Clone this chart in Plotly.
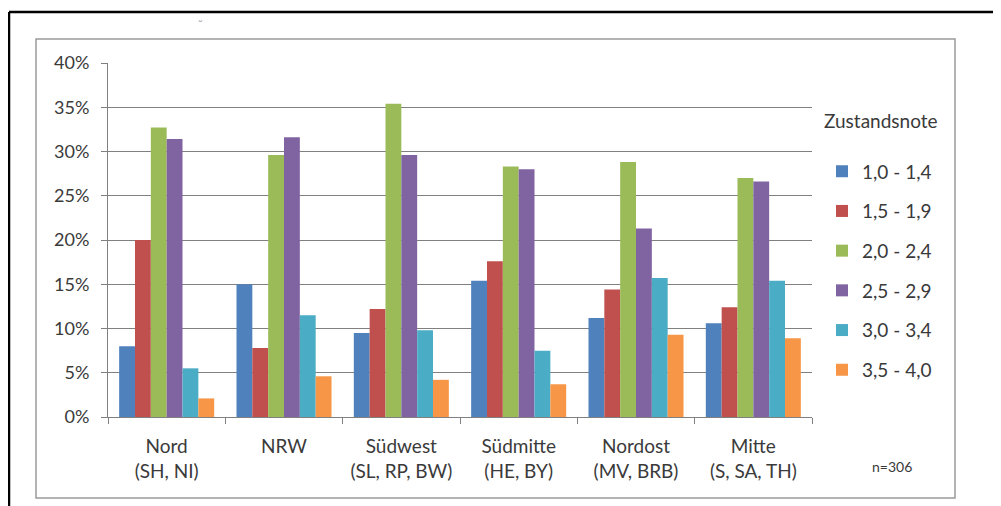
import plotly.graph_objects as go

regions = ["Nord<br>(SH, NI)", "NRW", "Südwest<br>(SL, RP, BW)", "Südmitte<br>(HE, BY)",
           "Nordost<br>(MV, BRB)", "Mitte<br>(S, SA, TH)"]
grades = ["1,0 - 1,4", "1,5 - 1,9", "2,0 - 2,4", "2,5 - 2,9", "3,0 - 3,4", "3,5 - 4,0"]

g10_14 = [8.0, 15.0, 9.5, 15.4, 11.2, 10.6]
g15_19 = [20.0, 7.8, 12.2, 17.6, 14.4, 12.4]
g20_24 = [32.7, 29.6, 35.4, 28.3, 28.8, 27.0]
g25_29 = [31.4, 31.6, 29.6, 28.0, 21.3, 26.6]
g30_34 = [5.5, 11.5, 9.8, 7.5, 15.7, 15.4]
g35_40 = [2.1, 4.6, 4.2, 3.7, 9.3, 8.9]

series = [g10_14, g15_19, g20_24, g25_29, g30_34, g35_40]
colors = ["#4F81BD", "#C0504D", "#9BBB59", "#8064A2", "#4BACC6", "#F79646"]

yticks = [0, 5, 10, 15, 20, 25, 30, 35, 40]
ytext = [f"{v}%" for v in yticks]

FONT = "Lato, 'Open Sans', sans-serif"
TXT = "#3a3a3a"
GRID = "#808080"

fig = go.Figure()
for name, vals, col in zip(grades, series, colors):
    fig.add_trace(go.Bar(x=regions, y=vals, name=name, marker=dict(color=col, line=dict(width=0)),
                         legendgroup=name))

# page offset (browser body margin) and plot area in page pixels
OFF = 8
FW, FH = 1001 - OFF, 506 - OFF
L, R, T, B = 108 - OFF, 812 - OFF, 63 - OFF, 417 - OFF
W, H = R - L, B - T
def px(x): return (x - OFF - L) / W
def py(y): return (B - (y - OFF)) / H

fig.update_layout(
    width=FW, height=FH,
    margin=dict(l=L, r=FW - R, t=T, b=FH - B),
    paper_bgcolor="white", plot_bgcolor="white",
    barmode="group", bargap=0.19, bargroupgap=0,
    font=dict(family=FONT, color=TXT, size=18),
    legend=dict(
        title=dict(text="Zustandsnote<br> ", font=dict(size=19, color=TXT), side="top"),
        x=px(822), xanchor="left", y=py(103), yanchor="top",
        font=dict(size=19, color=TXT), tracegroupgap=12,
        bgcolor="rgba(0,0,0,0)", itemclick=False,
    ),
    xaxis=dict(
        showgrid=False, showline=True, linecolor=GRID, linewidth=1,
        ticks="outside", tickson="boundaries", ticklen=6, tickcolor=GRID,
        tickfont=dict(size=19, color=TXT), ticklabelstandoff=12, fixedrange=True,
    ),
    yaxis=dict(
        range=[0, 40], tickvals=yticks, ticktext=ytext,
        showgrid=True, gridcolor=GRID, gridwidth=1.3,
        showline=True, linecolor=GRID, linewidth=1,
        ticks="outside", ticklen=6, tickcolor=GRID,
        tickfont=dict(size=18, color=TXT), ticklabelstandoff=8,
        zeroline=False, fixedrange=True,
    ),
    shapes=[
        # inner gray chart frame
        dict(type="rect", xref="paper", yref="paper", x0=px(36), x1=px(955), y0=py(498), y1=py(39),
             line=dict(color="#9a9a9a", width=1.5), layer="below"),
        # outer black scan border (top and left)
        dict(type="line", xref="paper", yref="paper", x0=px(9), x1=px(1001), y0=py(12), y1=py(12),
             line=dict(color="black", width=2.5)),
        dict(type="line", xref="paper", yref="paper", x0=px(9), x1=px(9), y0=py(12), y1=py(506),
             line=dict(color="black", width=2.5)),
    ],
    annotations=[
        dict(text="n=306", xref="paper", yref="paper", x=px(892), y=py(466), showarrow=False,
             font=dict(size=14, color=TXT), xanchor="center", yanchor="middle"),
        dict(text="˘", xref="paper", yref="paper", x=px(200), y=py(24), showarrow=False,
             font=dict(size=12, color="#999999"), xanchor="center", yanchor="middle"),
    ],
)

fig.write_html("out.html")
